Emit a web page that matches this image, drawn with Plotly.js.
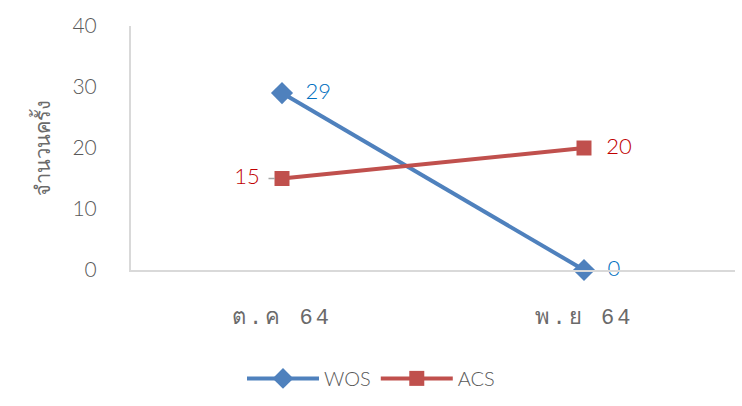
<!DOCTYPE html>
<html>
<head>
<meta charset="utf-8">
<script src="https://cdn.plot.ly/plotly-3.0.1.min.js"></script>
<style>html,body{margin:0;padding:0;background:#fff;}#chart{width:742px;height:406px;}
.xtick text{letter-spacing:3px;}</style>
</head>
<body>
<div id="chart"></div>
<script>
const categories = ["ต.ค 64", "พ.ย 64"];
const wosValues = [29, 0];
const acsValues = [15, 20];
const yTicks = [0, 10, 20, 30, 40];

const NB = "\u00a0";
const traces = [
  {
    x: categories, y: wosValues, name: "WOS", type: "scatter", mode: "lines+markers+text",
    line: {color: "#4F81BD", width: 4},
    marker: {symbol: "diamond", size: 17, color: "#4F81BD"},
    text: wosValues.map(v => NB + NB + v), textposition: "middle right",
    textfont: {family: "Lato, 'Open Sans', sans-serif", size: 22, color: "#0070C0", weight: 300},
    cliponaxis: false
  },
  {
    x: categories, y: acsValues, name: "ACS", type: "scatter", mode: "lines+markers+text",
    line: {color: "#C0504D", width: 4},
    marker: {symbol: "square", size: 15, color: "#C0504D"},
    text: acsValues.map((v, i) => i === 0 ? v + NB + NB : NB + NB + v),
    textposition: ["middle left", "middle right"],
    textfont: {family: "Lato, 'Open Sans', sans-serif", size: 22, color: "#C00000", weight: 300},
    cliponaxis: false
  }
];

const layout = {
  width: 742, height: 406,
  margin: {l: 131, r: 7, t: 26, b: 136},
  paper_bgcolor: "#fff", plot_bgcolor: "#fff",
  font: {family: "Lato, 'Open Sans', sans-serif", color: "#595959", size: 20},
  showlegend: true,
  legend: {orientation: "h", x: 0.5, xref: "container", xanchor: "center", y: 0.02, yref: "container", yanchor: "bottom",
           font: {size: 20, color: "#595959", weight: 300}, itemwidth: 72, tracegroupgap: 0},
  xaxis: {
    type: "category", range: [-0.5, 1.5], showgrid: false, zeroline: false,
    showline: true, linecolor: "#D9D9D9", linewidth: 2,
    ticks: "", tickfont: {family: "'Liberation Mono', 'DejaVu Sans Mono', monospace", size: 22, color: "#6A6A6A"},
    ticklabelstandoff: 26
  },
  yaxis: {
    range: [0, 40], tickvals: yTicks, showgrid: false, zeroline: false,
    showline: true, linecolor: "#D9D9D9", linewidth: 2,
    ticks: "", tickfont: {size: 21, color: "#595959", weight: 300}, ticklabelstandoff: 28,
    title: {text: "จำนวนครั้ง", font: {family: "'Noto Sans', sans-serif", size: 20, color: "#6A6A6A"}, standoff: 16}
  },
  annotations: [{
    x: categories[0], y: acsValues[0], xref: "x", yref: "y", text: "",
    showarrow: true, arrowhead: 0, arrowwidth: 1.5, arrowcolor: "#A6A6A6",
    ax: -15, ay: 0, standoff: 7
  }]
};

Plotly.newPlot("chart", traces, layout, {displayModeBar: false, staticPlot: true});
</script>
</body>
</html>
